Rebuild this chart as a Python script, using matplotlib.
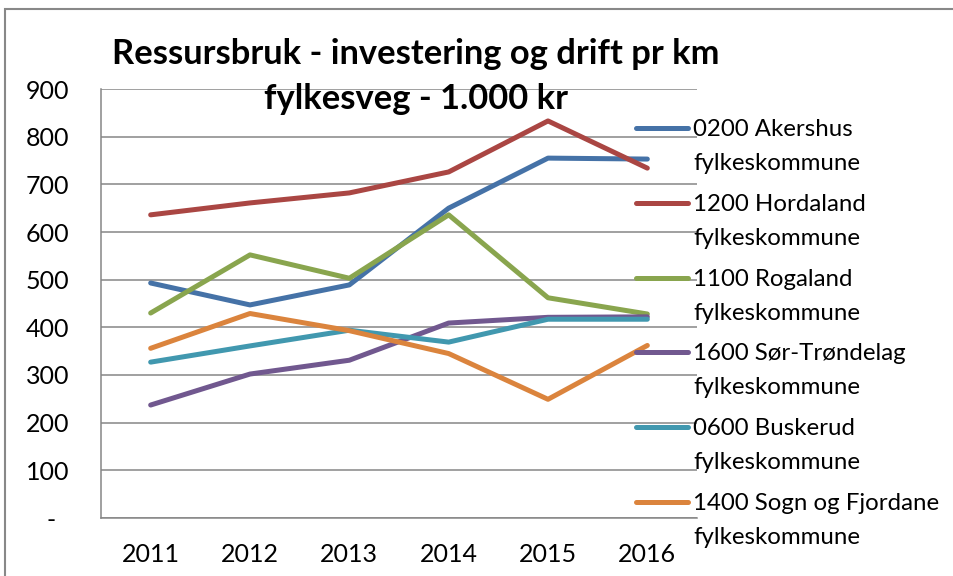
import matplotlib.pyplot as plt
from matplotlib.lines import Line2D
from matplotlib.patches import Rectangle

plt.rcParams['font.family'] = ['Lato', 'DejaVu Sans']

years = ['2011', '2012', '2013', '2014', '2015', '2016']

akershus = [493, 447, 489, 650, 755, 753]
hordaland = [636, 661, 682, 726, 833, 734]
rogaland = [430, 552, 503, 636, 462, 428]
sor_trondelag = [237, 302, 331, 409, 421, 422]
buskerud = [327, 361, 394, 369, 417, 417]
sogn_fjordane = [356, 429, 393, 345, 249, 362]

series = [akershus, hordaland, rogaland, sor_trondelag, buskerud, sogn_fjordane]
names = ['0200 Akershus\nfylkeskommune',
         '1200 Hordaland\nfylkeskommune',
         '1100 Rogaland\nfylkeskommune',
         '1600 Sør-Trøndelag\nfylkeskommune',
         '0600 Buskerud\nfylkeskommune',
         '1400 Sogn og Fjordane\nfylkeskommune']
colors = ['#4572A7', '#AA4643', '#89A54E', '#71588F', '#4198AF', '#DB843D']

y_ticks = [0, 100, 200, 300, 400, 500, 600, 700, 800, 900]
y_labels = ['-  ', '100', '200', '300', '400', '500', '600', '700', '800', '900']

W, H = 954, 576
fig = plt.figure(figsize=(W / 100, H / 100), dpi=100)
ax = fig.add_axes([101 / W, 1 - 518 / H, 596 / W, 429 / H])

grid_color = '#868686'
x = range(len(years))
for vals, c in zip(series, colors):
    ax.plot(x, vals, color=c, lw=3.6, solid_capstyle='round', solid_joinstyle='round', zorder=3)

ax.set_xlim(-0.5, len(years) - 0.5)
ax.set_ylim(0, 900)
ax.set_yticks(y_ticks)
ax.set_yticklabels(y_labels)
ax.set_xticks(list(x))
ax.set_xticklabels(years)
ax.yaxis.grid(True, color=grid_color, lw=1.1)
ax.set_axisbelow(True)
ax.tick_params(axis='y', length=0, pad=23, labelsize=18)
ax.tick_params(axis='x', length=0, pad=18, labelsize=18)
for s in ['top', 'right']:
    ax.spines[s].set_visible(False)
for s in ['left', 'bottom']:
    ax.spines[s].set_color(grid_color)
    ax.spines[s].set_linewidth(1.1)

# title
fig.text(416 / W, 1 - 38 / H, 'Ressursbruk - investering og drift pr km\nfylkesveg - 1.000 kr',
         ha='center', va='top', fontsize=24.8, fontweight='bold', linespacing=1.5)

# legend drawn by hand so the line sits next to the first text row
for i, (name, c) in enumerate(zip(names, colors)):
    yc = 128 + 74.8 * i
    fig.add_artist(Line2D([636 / W, 688 / W], [1 - yc / H, 1 - yc / H], color=c, lw=3.6,
                          solid_capstyle='round', transform=fig.transFigure))
    first, second = name.split('\n')
    fig.text(693 / W, 1 - (yc + 8) / H, first, fontsize=17.3, va='baseline', ha='left')
    fig.text(693 / W, 1 - (yc + 42) / H, second, fontsize=17.3, va='baseline', ha='left')

# chart frame
fig.add_artist(Rectangle((5.5 / W, -0.2), 1.2, 1.2 - 9 / H, transform=fig.transFigure,
                         fill=False, edgecolor='#888888', lw=1.5))

plt.savefig('out.png', dpi=100)
plt.close()
